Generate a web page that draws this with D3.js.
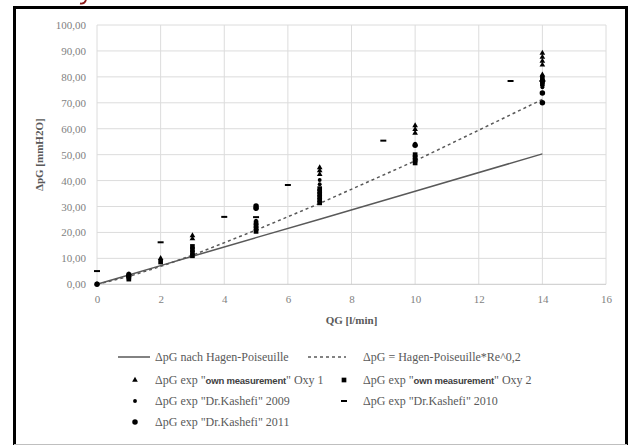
<!DOCTYPE html>
<html>
<head>
<meta charset="utf-8">
<script src="https://cdn.jsdelivr.net/npm/d3@7"></script>
<style>
  html, body { margin: 0; padding: 0; background: #fff; }
  svg { display: block; }
</style>
</head>
<body>
<div id="chart"></div>
<script>
// Axis ticks
const xTicks = [0, 2, 4, 6, 8, 10, 12, 14, 16];
const yTicks = [0, 10, 20, 30, 40, 50, 60, 70, 80, 90, 100];

// Theory lines
const hpQ = [0, 1, 2, 3, 5, 7, 10, 14];
const hpDp = [0, 3.6, 7.2, 10.8, 18.0, 25.1, 35.9, 50.3];
const reDp = [0, 3.0, 6.9, 11.2, 20.9, 31.2, 47.6, 71.3];

// Measurements
const oxy1Q = [2, 3, 3, 7, 7, 7, 10, 10, 10, 14, 14, 14, 14, 14];
const oxy1Dp = [10.0, 18.8, 17.6, 45.0, 43.8, 42.4, 61.2, 59.8, 58.3, 89.2, 87.6, 86.1, 84.6, 80.8];
const oxy2Q = [1, 1, 1, 2, 3, 3, 3, 3, 5, 5, 5, 5, 7, 7, 7, 7, 7, 7, 10, 10, 10, 10, 14, 14, 14];
const oxy2Dp = [2.0, 2.8, 3.6, 8.6, 11.0, 12.2, 13.4, 14.6, 20.4, 21.5, 22.6, 23.7, 31.4, 32.5, 33.6, 34.7, 35.8, 36.9, 46.8, 47.9, 49.0, 50.0, 77.2, 78.3, 79.4];
const k2009Q = [0, 1, 5, 7, 7, 10, 14, 14];
const k2009Dp = [0.3, 4.2, 24.5, 40.2, 38.6, 54.2, 80.4, 76.0];
const k2010Q = [0, 2, 4, 5, 6, 9, 13, 14];
const k2010Dp = [5.1, 16.2, 26.0, 25.9, 38.3, 55.4, 78.4, 78.4];
const k2011Q = [0, 1, 5, 5, 10, 14, 14];
const k2011Dp = [0, 3.4, 29.3, 30.2, 53.6, 70.0, 73.8];

const W = 630, H = 445;
const serif = "'Liberation Serif', 'DejaVu Serif', serif";
const grey = '#595959';

const svg = d3.select('#chart').append('svg')
  .attr('width', W)
  .attr('height', H);

// cropped red descender above the frame (left over from the page it was cut from)
svg.append('path')
  .attr('d', 'M86,0 C85,3 83,4 80,3.5')
  .attr('fill', 'none')
  .attr('stroke', '#8b1a1a')
  .attr('stroke-width', 1.8);

// frame
svg.append('path')
  .attr('d', `M14.5,445 V7.5 H626.5 V445`)
  .attr('fill', 'none')
  .attr('stroke', '#000')
  .attr('stroke-width', 3);
svg.append('line')
  .attr('x1', 14).attr('x2', 627)
  .attr('y1', 444.5).attr('y2', 444.5)
  .attr('stroke', '#bfbfbf');

const x = d3.scaleLinear().domain([0, 16]).range([97, 606]);
const y = d3.scaleLinear().domain([0, 100]).range([284.3, 25]);

const fmt = v => d3.format('.2f')(v).replace('.', ',');

// grid
svg.append('g')
  .selectAll('line')
  .data(xTicks)
  .enter()
  .append('line')
  .attr('x1', d => x(d)).attr('x2', d => x(d))
  .attr('y1', y(100)).attr('y2', y(0))
  .attr('stroke', '#dcdcdc');

svg.append('g')
  .selectAll('line')
  .data(yTicks)
  .enter()
  .append('line')
  .attr('x1', x(0)).attr('x2', x(16))
  .attr('y1', d => y(d)).attr('y2', d => y(d))
  .attr('stroke', d => d === 0 ? '#c8c8c8' : '#dcdcdc');

// Y axis labels
const yAxis = svg.append('g')
  .attr('transform', `translate(${x(0) - 8},0)`)
  .call(d3.axisLeft(y).tickValues(yTicks).tickFormat(fmt).tickSize(0).tickPadding(3));
yAxis.select('.domain').remove();
yAxis.selectAll('text')
  .attr('font-family', serif)
  .attr('font-size', 11)
  .attr('fill', '#7f7f7f');

// X axis labels
const xAxis = svg.append('g')
  .attr('transform', `translate(0,${y(0) + 8})`)
  .call(d3.axisBottom(x).tickValues(xTicks).tickSize(0).tickPadding(3));
xAxis.select('.domain').remove();
xAxis.selectAll('text')
  .attr('font-family', serif)
  .attr('font-size', 11)
  .attr('fill', '#7f7f7f');

// axis titles
svg.append('text')
  .attr('x', (x(0) + x(16)) / 2)
  .attr('y', 324)
  .attr('text-anchor', 'middle')
  .attr('font-family', serif)
  .attr('font-size', 11)
  .attr('font-weight', 'bold')
  .attr('fill', grey)
  .text('QG [l/min]');

svg.append('text')
  .attr('transform', `translate(43,${(y(0) + y(100)) / 2}) rotate(-90)`)
  .attr('text-anchor', 'middle')
  .attr('font-family', serif)
  .attr('font-size', 11)
  .attr('font-weight', 'bold')
  .attr('fill', grey)
  .text('ΔpG [mmH2O]');

// theory lines
const line = d3.line()
  .x(d => x(d[0]))
  .y(d => y(d[1]));

svg.append('path')
  .datum(hpQ.map((q, i) => [q, hpDp[i]]))
  .attr('d', line)
  .attr('fill', 'none')
  .attr('stroke', grey)
  .attr('stroke-width', 1.5);

svg.append('path')
  .datum(hpQ.map((q, i) => [q, reDp[i]]))
  .attr('d', line)
  .attr('fill', 'none')
  .attr('stroke', grey)
  .attr('stroke-width', 1.5)
  .attr('stroke-dasharray', '3,3');

// marker shapes
const tri = d3.symbol().type(d3.symbolTriangle).size(14)();
const sq = d3.symbol().type(d3.symbolSquare).size(22)();
const dot = d3.symbol().type(d3.symbolCircle).size(12)();
const circ = d3.symbol().type(d3.symbolCircle).size(24)();
const dash = 'M-3,-1H3V1H-3Z';

const series = [
  { q: oxy1Q, v: oxy1Dp, shape: tri },
  { q: oxy2Q, v: oxy2Dp, shape: sq },
  { q: k2009Q, v: k2009Dp, shape: dot },
  { q: k2010Q, v: k2010Dp, shape: dash },
  { q: k2011Q, v: k2011Dp, shape: circ }
];

series.forEach(s => {
  svg.append('g')
    .selectAll('path')
    .data(s.q.map((q, i) => [q, s.v[i]]))
    .enter()
    .append('path')
    .attr('d', s.shape)
    .attr('transform', d => `translate(${x(d[0])},${y(d[1])})`)
    .attr('fill', '#000');
});

// legend
const legend = svg.append('g')
  .attr('font-family', serif)
  .attr('font-size', 12)
  .attr('fill', grey);

function legendText(tx, ty, parts) {
  const t = legend.append('text')
    .attr('x', tx)
    .attr('y', ty)
    .attr('dy', '0.35em');
  parts.forEach(p => {
    const ts = t.append('tspan').text(p[0]);
    if (p[1]) {
      ts.attr('font-family', "'Liberation Sans', Arial, sans-serif")
        .attr('font-weight', 'bold')
        .attr('font-size', 9.5)
        .attr('letter-spacing', -0.2)
        .attr('fill', '#404040');
    }
  });
}

legend.append('line')
  .attr('x1', 118).attr('x2', 150)
  .attr('y1', 357).attr('y2', 357)
  .attr('stroke', grey).attr('stroke-width', 1.5);
legendText(155, 357, [['ΔpG nach Hagen-Poiseuille']]);

legend.append('line')
  .attr('x1', 308).attr('x2', 346)
  .attr('y1', 357).attr('y2', 357)
  .attr('stroke', grey).attr('stroke-width', 1.5)
  .attr('stroke-dasharray', '3,3');
legendText(363, 357, [['ΔpG = Hagen-Poiseuille*Re^0,2']]);

const legendMarks = [
  { shape: tri, mx: 135, my: 380, tx: 155, parts: [['ΔpG exp "'], ['own measurement', true], ['" Oxy 1']] },
  { shape: sq, mx: 344, my: 380, tx: 363, parts: [['ΔpG exp "'], ['own measurement', true], ['" Oxy 2']] },
  { shape: dot, mx: 135, my: 401, tx: 155, parts: [['ΔpG exp "Dr.Kashefi"  2009']] },
  { shape: dash, mx: 344, my: 401, tx: 363, parts: [['ΔpG exp "Dr.Kashefi"  2010']] },
  { shape: circ, mx: 135, my: 422, tx: 155, parts: [['ΔpG exp "Dr.Kashefi"  2011']] }
];

legendMarks.forEach(m => {
  legend.append('path')
    .attr('d', m.shape)
    .attr('transform', `translate(${m.mx},${m.my})`)
    .attr('fill', '#000');
  legendText(m.tx, m.my, m.parts);
});
</script>
</body>
</html>
